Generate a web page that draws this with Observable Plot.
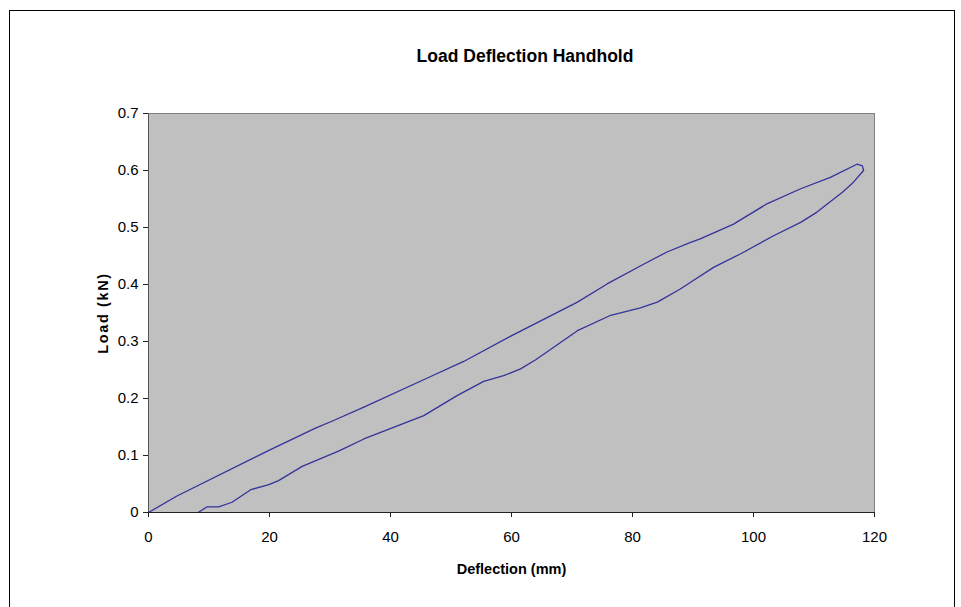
<!DOCTYPE html>
<html>
<head>
<meta charset="utf-8">
<script src="https://cdn.jsdelivr.net/npm/d3@7"></script>
<script src="https://cdn.jsdelivr.net/npm/@observablehq/plot@0.6"></script>
<style>
  html, body { margin: 0; padding: 0; background: #fff; width: 961px; height: 607px; overflow: hidden; }
  #frame { position: absolute; left: 9px; top: 10px; width: 946px; height: 640px; border: 1px solid #000; box-sizing: border-box; }
  #title { position: absolute; left: 325px; top: 46px; width: 400px; text-align: center;
           font-family: "Liberation Sans", Arial, sans-serif; font-weight: bold; font-size: 17.5px; line-height: 20px; color: #000; }
  #chart { position: absolute; left: 0; top: 80px; }
</style>
</head>
<body>
<div id="frame"></div>
<div id="title">Load Deflection Handhold</div>
<div id="chart"></div>
<script>
// Deflection (mm) and Load (kN) in recorded order: loading then unloading
const deflection = [0, 4.7, 19.9, 27.6, 30.5, 35.6, 46.1, 52.1, 59.8, 70.9, 75.8, 81.9, 85.7, 89.6, 91.2, 96.7, 102.3, 107.8, 112.7, 117.1, 118.0, 118.2,
  116.3, 114.7, 110.5, 107.8, 103.4, 97.9, 93.4, 89.6, 87.9, 84.1, 81.3, 76.4, 70.9, 64.0, 61.5, 58.7, 55.4, 51.0, 45.5, 35.6, 31.5, 25.4, 21.5, 19.9, 16.9, 13.8, 11.6, 9.7, 8.2];
const load = [0, 0.029, 0.109, 0.148, 0.161, 0.185, 0.236, 0.265, 0.309, 0.369, 0.401, 0.436, 0.457, 0.474, 0.480, 0.506, 0.542, 0.568, 0.588, 0.611, 0.608, 0.600,
  0.577, 0.562, 0.527, 0.509, 0.486, 0.454, 0.430, 0.404, 0.392, 0.369, 0.359, 0.346, 0.319, 0.268, 0.252, 0.240, 0.230, 0.205, 0.170, 0.129, 0.108, 0.081, 0.056, 0.049, 0.040, 0.018, 0.010, 0.010, 0];
const xTicks = [0, 20, 40, 60, 80, 100, 120];
const yTicks = [0, 0.1, 0.2, 0.3, 0.4, 0.5, 0.6, 0.7];
const xLabel = "Deflection (mm)";
const yLabel = "Load (kN)";

const points = deflection.map((d, i) => ({d, l: load[i]}));

const chart = Plot.plot({
  width: 961,
  height: 527,
  marginLeft: 148,
  marginRight: 87,
  marginTop: 33,
  marginBottom: 95,
  style: {fontFamily: "Liberation Sans, Arial, sans-serif", fontSize: "15px", color: "#000", background: "transparent"},
  x: {domain: [0, 120]},
  y: {domain: [0, 0.7]},
  marks: [
    Plot.frame({fill: "#c0c0c0", stroke: "#808080"}),
    Plot.line(points, {x: "d", y: "l", stroke: "#33339a", strokeWidth: 1.3}),
    Plot.ruleY([0], {stroke: "#222"}),
    Plot.ruleX([0], {stroke: "#555"}),
    Plot.axisX({ticks: xTicks, tickSize: 5, tickPadding: 14, tickFormat: d => String(d), label: null, stroke: "#222", fontSize: 15}),
    Plot.axisY({ticks: yTicks, tickSize: 5, tickPadding: 5, tickFormat: d => String(d), label: null, stroke: "#222", fontSize: 15}),
    Plot.text([xLabel], {frameAnchor: "bottom", dy: 57, text: d => d, fontWeight: "bold", fontSize: 14.5, lineAnchor: "middle"}),
    Plot.text([yLabel], {frameAnchor: "left", dx: -45, text: d => d, fontWeight: "bold", fontSize: 14.5, rotate: -90, textAnchor: "middle", lineAnchor: "middle"})
  ]
});
d3.select(chart).selectAll("text").filter(function() { return this.textContent === yLabel; })
  .style("letter-spacing", "1.6px");
document.getElementById("chart").appendChild(chart);
</script>
</body>
</html>
